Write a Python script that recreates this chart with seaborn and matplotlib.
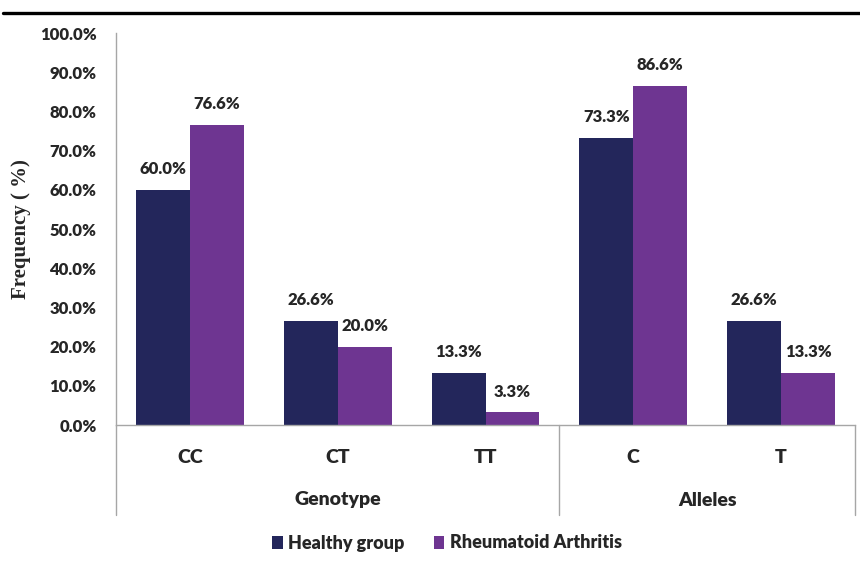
import matplotlib
matplotlib.use("Agg")
import matplotlib.pyplot as plt
import matplotlib.ticker as mticker
from matplotlib.lines import Line2D
import seaborn as sns
import pandas as pd

categories = ["CC", "CT", "TT", "C", "T"]
healthy = [60.0, 26.6, 13.3, 73.3, 26.6]
ra = [76.6, 20.0, 3.3, 86.6, 13.3]
series_names = ["Healthy group", "Rheumatoid Arthritis"]
groups = ["Genotype", "Alleles"]
yticks = [0, 10, 20, 30, 40, 50, 60, 70, 80, 90, 100]

df = pd.DataFrame({
    "cat": categories * 2,
    "val": healthy + ra,
    "series": [series_names[0]] * len(categories) + [series_names[1]] * len(categories),
})

sns.set_style("white")
plt.rcParams["font.family"] = ["Lato", "DejaVu Sans"]
W = 800

fig = plt.figure(figsize=(8.6, 5.61), dpi=100)
ax = fig.add_axes([116/860, 1-425/561, (855-116)/860, (425-33)/561])

colors = ["#23265B", "#6E3591"]
sns.barplot(data=df, x="cat", y="val", hue="series", order=categories,
            hue_order=series_names, palette=colors, width=0.73, ax=ax,
            saturation=1, legend=True, edgecolor="none")

ax.set_ylim(0, 100)
ax.set_xlim(-0.5, 4.5)
ax.set_yticks(yticks)
ax.yaxis.set_major_formatter(mticker.FuncFormatter(lambda v, p: f"{v:.1f}%"))
for lbl in ax.get_yticklabels():
    lbl.set_fontweight(W)
    lbl.set_fontsize(12)
ax.tick_params(axis="y", length=0, pad=14)
ax.tick_params(axis="x", length=0, pad=17)
ax.set_xticks(range(len(categories)))
ax.set_xticklabels(categories, fontsize=14, fontweight=W)
ax.set_xlabel("")
ax.set_ylabel("Frequency ( %)", family="Liberation Serif", fontweight="bold",
              fontsize=15, labelpad=6)

for s in ["top", "right"]:
    ax.spines[s].set_visible(False)
for s in ["left", "bottom"]:
    ax.spines[s].set_color("#A6A6A6")
    ax.spines[s].set_linewidth(1.0)

for cont in ax.containers:
    ax.bar_label(cont, labels=[f"{v:.1f}%" for v in cont.datavalues],
                 padding=9, fontsize=12, fontweight=W)

# group separators below axis
ydrop = -(515-425)/392
for xf in [0.0, 3/5.0, 1.0]:
    ax.plot([xf, xf], [0, ydrop], transform=ax.transAxes, color="#A6A6A6",
            lw=1.0, clip_on=False)
ax.text(1.5/5.0, -(500-425)/392, groups[0], transform=ax.transAxes,
        ha="center", va="center", fontsize=14, fontweight=W)
ax.text(4.0/5.0, -(500-425)/392, groups[1], transform=ax.transAxes,
        ha="center", va="center", fontsize=14, fontweight=W)

leg = ax.legend(loc="center", bbox_to_anchor=(447/860, 1-543/561),
                bbox_transform=fig.transFigure, ncol=2, frameon=False,
                handlelength=0.6, handleheight=0.7, handletextpad=0.3,
                columnspacing=1.6, prop={"weight": W, "size": 13})

fig.add_artist(Line2D([3/860, 1.0], [1-13/561, 1-13/561], color="black",
                      lw=2.4, transform=fig.transFigure))

fig.savefig("out.png", dpi=100, facecolor="white")
